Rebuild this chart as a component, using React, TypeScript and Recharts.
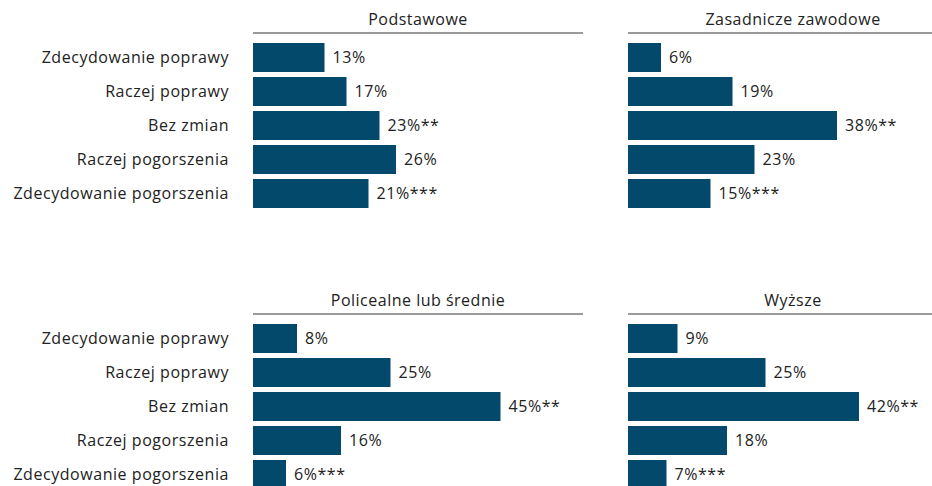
import { Bar, BarChart, LabelList, XAxis, YAxis } from "recharts";

const categories = [
  "Zdecydowanie poprawy",
  "Raczej poprawy",
  "Bez zmian",
  "Raczej pogorszenia",
  "Zdecydowanie pogorszenia",
];

const suffixes = ["", "", "**", "", "***"];

const podstawowe = [13, 17, 23, 26, 21];
const zasadnicze = [6, 19, 38, 23, 15];
const policealne = [8, 25, 45, 16, 6];
const wyzsze = [9, 25, 42, 18, 7];

const BAR_COLOR = "#03496c";
const FONT = "'Open Sans', sans-serif";
const TEXT_STYLE = { fontSize: 16, fontFamily: FONT, letterSpacing: 0.55 };

function buildData(values: number[]) {
  return categories.map((name, i) => ({
    name,
    value: values[i],
    label: `${values[i]}%${suffixes[i]}`,
  }));
}

interface PanelProps {
  title: string;
  values: number[];
  left: number;
  top: number;
  showCategories: boolean;
}

function Panel({ title, values, left, top, showCategories }: PanelProps) {
  const axisWidth = showCategories ? 253 : 0;
  const chartLeft = showCategories ? left - 253 : left;
  const data = buildData(values);

  return (
    <>
      <div
        style={{
          position: "absolute",
          left,
          top,
          width: 330,
          textAlign: "center",
          fontSize: 16,
          letterSpacing: 0.5,
          color: "#222",
          lineHeight: "20px",
        }}
      >
        {title}
      </div>
      <div
        style={{
          position: "absolute",
          left,
          top: top + 23,
          width: 330,
          height: 2,
          background: "#9a9a9a",
        }}
      />
      <div style={{ position: "absolute", left: chartLeft, top: top - 9 }}>
        <BarChart
          width={axisWidth + 330}
          height={218}
          data={data}
          layout="vertical"
          margin={{ top: 40, right: 0, bottom: 8, left: 0 }}
          barSize={29}
        >
          <XAxis type="number" domain={[0, 60]} hide />
          <YAxis
            type="category"
            dataKey="name"
            width={axisWidth}
            hide={!showCategories}
            axisLine={false}
            tickLine={false}
            tickSize={0}
            tickMargin={24}
            tick={{ fill: "#222", ...TEXT_STYLE }}
          />
          <Bar dataKey="value" fill={BAR_COLOR} isAnimationActive={false}>
            <LabelList
              dataKey="label"
              position="right"
              offset={8}
              fill="#222"
              style={TEXT_STYLE}
            />
          </Bar>
        </BarChart>
      </div>
    </>
  );
}

export default function App() {
  return (
    <div
      style={{
        position: "absolute",
        left: 0,
        top: 0,
        width: 932,
        height: 486,
        overflow: "hidden",
        background: "#fff",
        fontFamily: FONT,
      }}
    >
      <Panel title="Podstawowe" values={podstawowe} left={253} top={9} showCategories />
      <Panel title="Zasadnicze zawodowe" values={zasadnicze} left={628} top={9} showCategories={false} />
      <Panel title="Policealne lub średnie" values={policealne} left={253} top={290} showCategories />
      <Panel title="Wyższe" values={wyzsze} left={628} top={290} showCategories={false} />
    </div>
  );
}
